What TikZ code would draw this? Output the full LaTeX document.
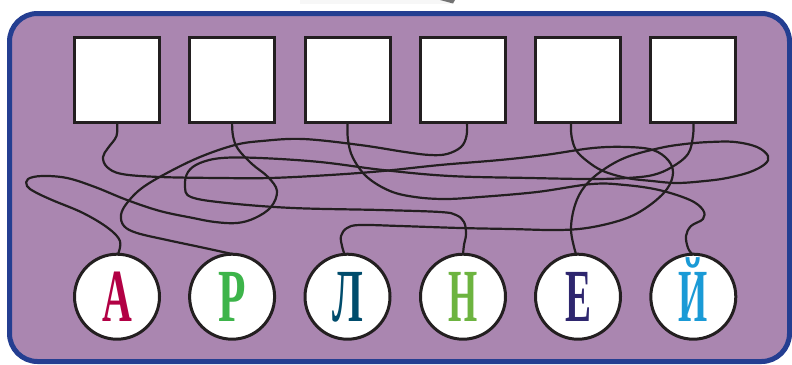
\documentclass[tikz,border=0pt]{standalone}
\usepackage{fontspec}
\newfontfamily\letterfont{Liberation Serif}
\definecolor{ink}{HTML}{231F20}
\definecolor{panel}{RGB}{170,134,176}
\definecolor{frame}{RGB}{36,62,145}
\definecolor{cA}{HTML}{B20044}
\definecolor{cR}{HTML}{3DB44A}
\definecolor{cL}{HTML}{004C6C}
\definecolor{cN}{HTML}{6DB440}
\definecolor{cE}{HTML}{2E266E}
\definecolor{cJ}{HTML}{1A9AD6}
\pgfdeclarelayer{back}
\pgfdeclarelayer{wires}
\pgfsetlayers{back,wires,main}
\begin{document}
\begin{tikzpicture}[x=1pt,y=-1pt,
  box/.style={draw=ink, line width=3pt, fill=white, rectangle, minimum width=85pt, minimum height=85pt, inner sep=0pt, outer sep=0pt},
  disc/.style={draw=ink, circle, line width=3pt, fill=white, minimum size=85pt, inner sep=0pt, outer sep=0pt},
  wire/.style={draw=ink, line width=2.2pt, line cap=round, line join=round},
  lett/.style={anchor=base, inner sep=0pt, font=\letterfont\bfseries\fontsize{75}{75}\selectfont}
]
\useasboundingbox (0,0) rectangle (792,364);
\begin{pgfonlayer}{back}
  \fill[gray!6] (300,0) rectangle (452,3.5);
  \fill[black!55] (440,0) -- (455,0) -- (453,3.5) -- cycle;
  \draw[draw=frame, fill=panel, line width=5pt, rounded corners=28pt] (9.5,13.5) rectangle (789.5,361.5);
\end{pgfonlayer}

% squares
\foreach \i/\x in {1/117,2/232.1,3/347.5,4/463,5/578,6/693.3}{
  \node[box] (s\i) at (\x,79.7) {};
}
% circles
\foreach \i/\x in {1/117,2/232.1,3/347.5,4/463,5/578,6/693.3}{
  \node[disc] (c\i) at (\x,296.7) {};
}
% letters
\node[lett, text=cA] (la) at (c1.center |- 0,321) {\scalebox{0.55}[1]{А}};
\node[lett, text=cR] (lr) at (c2.center |- 0,321) {\scalebox{0.6}[1]{Р}};
\node[lett, text=cL] (ll) at (c3.center |- 0,321) {\scalebox{0.55}[1]{Л}};
\node[lett, text=cN] (ln) at (c4.center |- 0,321) {\scalebox{0.5}[1]{Н}};
\node[lett, text=cE] (le) at (c5.center |- 0,321) {\scalebox{0.52}[1]{Е}};
\node[lett, text=cJ] (lj) at (c6.center |- 0,321) {\scalebox{0.5}[1]{Й}};

% string ends
\coordinate (t1) at (s1.south);
\coordinate (t2) at (s2.south);
\coordinate (t3) at (s3.south);
\coordinate (t4) at ([xshift=4pt]s4.south);
\coordinate (t5) at ([xshift=-7pt]s5.south);
\coordinate (t6) at (s6.south);
\coordinate (b1) at ([xshift=1pt]c1.north);
\coordinate (b2) at ([xshift=1pt]c2.north);
\coordinate (b3) at ([xshift=-3pt]c3.north);
\coordinate (b4) at (c4.north);
\coordinate (b5) at ([xshift=-2pt]c5.north);
\coordinate (b6) at ([xshift=-1pt]c6.north);

\begin{pgfonlayer}{wires}
% square 1 -> circle 3
\draw[wire] plot[smooth, tension=0.6] coordinates {(t1) (116.5,136) (108,148) (103,157) (107,167) (122,174) (160,177) (220,178) (270,178) (330,175) (383,171) (440,165) (500,160) (545,155) (593,148) (627,147) (653,150) (668,160) (673,173) (667,189) (650,205) (627,218) (593,227) (560,230) (510,229) (460,228) (400,226) (360,225) (347,228) (341,236) (342,246) (b3)};
% square 2 -> circle 1
\draw[wire] plot[smooth, tension=0.6] coordinates {(t2) (233,136) (238,149) (252,164) (268,177) (277,191) (271,207) (255,218) (237,223) (215,222) (193,218) (160,211) (127,200) (95,187) (67,178) (42,176) (28,179) (27,186) (35,192) (52,200) (83,213) (108,228) (120,241) (b1)};
% square 3 -> circle 6
\draw[wire] plot[smooth, tension=0.6] coordinates {(t3) (348,140) (353,158) (367,177) (390,191) (415,197) (445,199) (480,197) (537,192) (592,184) (625,185) (659,190) (690,200) (703,210) (703,219) (691,226) (686,236) (688,248) (b6)};
% square 4 -> circle 2
\draw[wire] plot[smooth, tension=0.6] coordinates {(t4) (466.5,136) (461,147) (447,154) (430,155) (405,152) (360,145) (303,139) (262,141) (235,145) (200,157) (167,173) (142,188) (127,203) (121,215) (124,226) (137,233) (167,240) (200,247) (b2)};
% square 5 -> circle 5
\draw[wire] plot[smooth, tension=0.6] coordinates {(t5) (571.5,136) (576,150) (587,161) (603,171) (627,178) (652,181) (677,183) (705,181) (727,178) (750,172) (765,164) (768,156) (757,147) (735,142) (710,142) (685,144) (660,148) (627,157) (603,170) (585,186) (575,205) (571,230) (b5)};
% square 6 -> circle 4
\draw[wire] plot[smooth, tension=0.6] coordinates {(t6) (693,136) (688,154) (672,167) (653,175) (627,178) (590,179) (530,178) (450,176) (383,170) (320,162) (260,158) (222,158) (200,163) (188,172) (185,186) (191,197) (227,203) (293,208) (380,210) (440,212) (456,215) (464,222) (466,234) (464,245) (b4)};
\end{pgfonlayer}
\end{tikzpicture}
\end{document}
